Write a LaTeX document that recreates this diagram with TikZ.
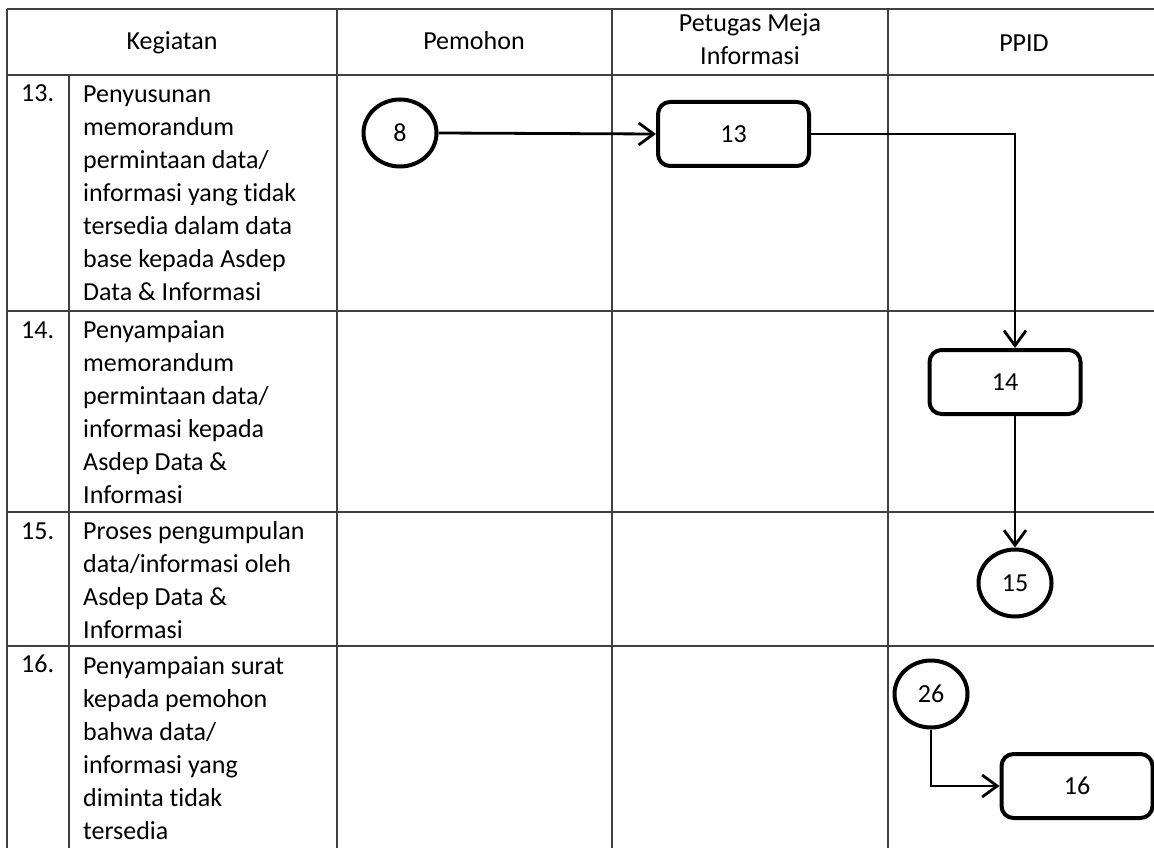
\documentclass[tikz,border=0pt]{standalone}
\usepackage{fontspec}
\setmainfont{Carlito}[Ligatures=NoCommon]
\usetikzlibrary{arrows.meta,shapes.geometric}
\begin{document}
\begin{tikzpicture}[x=1pt,y=-1pt,
  grid/.style={draw=black!75, line width=1.1pt},
  txt/.style={font=\fontsize{26}{33}\selectfont, inner sep=0pt, anchor=base west, align=left},
  hdr/.style={font=\fontsize{26}{33}\selectfont, inner sep=0pt, anchor=base, align=center},
  proc/.style={draw, line width=4pt, rounded corners=12pt, minimum width=151pt, minimum height=64pt, font=\fontsize{26}{33}\selectfont, inner sep=0pt},
  conn/.style={draw, ellipse, line width=4pt, minimum width=73pt, minimum height=67pt, font=\fontsize{26}{33}\selectfont, inner sep=0pt},
  flow/.style={line width=2.8pt, -{Straight Barb[length=15pt,width=22pt,line width=2.8pt]}}
]
\useasboundingbox (0,0) rectangle (1154,848);
\fill[white] (0,0) rectangle (1154,848);
% table grid
\draw[grid] (7,9) -- (1154,9);
\draw[grid] (7,75) -- (1154,75);
\draw[grid] (7,311) -- (1154,311);
\draw[grid] (7,512) -- (1154,512);
\draw[grid] (7,646) -- (1154,646);
\draw[grid] (7,9) -- (7,848);
\draw[grid] (69,75) -- (69,848);
\draw[grid] (337,9) -- (337,848);
\draw[grid] (612,9) -- (612,848);
\draw[grid] (888,9) -- (888,848);
% headers
\node[hdr] (h1) at (172,50) {Kegiatan};
\node[hdr] (h2) at (474,50) {Pemohon};
\node[hdr] (h3) at (750,65) {Petugas Meja\\Informasi};
\node[hdr] (h4) at (1024,52) {PPID};
% rows (anchor = baseline of last line)
\node[txt] (n13) at (21,102) {13.};
\node[txt] (t13) at (83,300) {Penyusunan\\memorandum\\permintaan data/\\informasi yang tidak\\tersedia dalam data\\base kepada Asdep\\Data \& Informasi};
\node[txt] (n14) at (21,338) {14.};
\node[txt] (t14) at (83,503) {Penyampaian\\memorandum\\permintaan data/\\informasi kepada\\Asdep Data \&\\Informasi};
\node[txt] (n15) at (21,539) {15.};
\node[txt] (t15) at (83,638) {Proses pengumpulan\\data/informasi oleh\\Asdep Data \&\\Informasi};
\node[txt] (n16) at (21,672) {16.};
\node[txt] (t16) at (83,839) {Penyampaian surat\\kepada pemohon\\bahwa data/\\informasi yang\\diminta tidak\\tersedia};
% flow shapes
\node[conn] (c8) at (400,133) {8};
\node[proc] (b13) at (733.5,134) {13};
\node[proc] (b14) at (1005,382) {14};
\node[conn] (c15) at (1015,583) {15};
\node[conn] (c26) at (931,694) {26};
\node[proc] (b16) at (1077,786) {16};
% connectors
\draw[flow] (c8.east) -- (b13.west);
\draw[flow] (b13.east) -| (c15 |- b14.north);
\draw[flow] (c15 |- b14.south) -- (c15.north);
\draw[flow] (c26.south) |- (b16.west);
\end{tikzpicture}
\end{document}
